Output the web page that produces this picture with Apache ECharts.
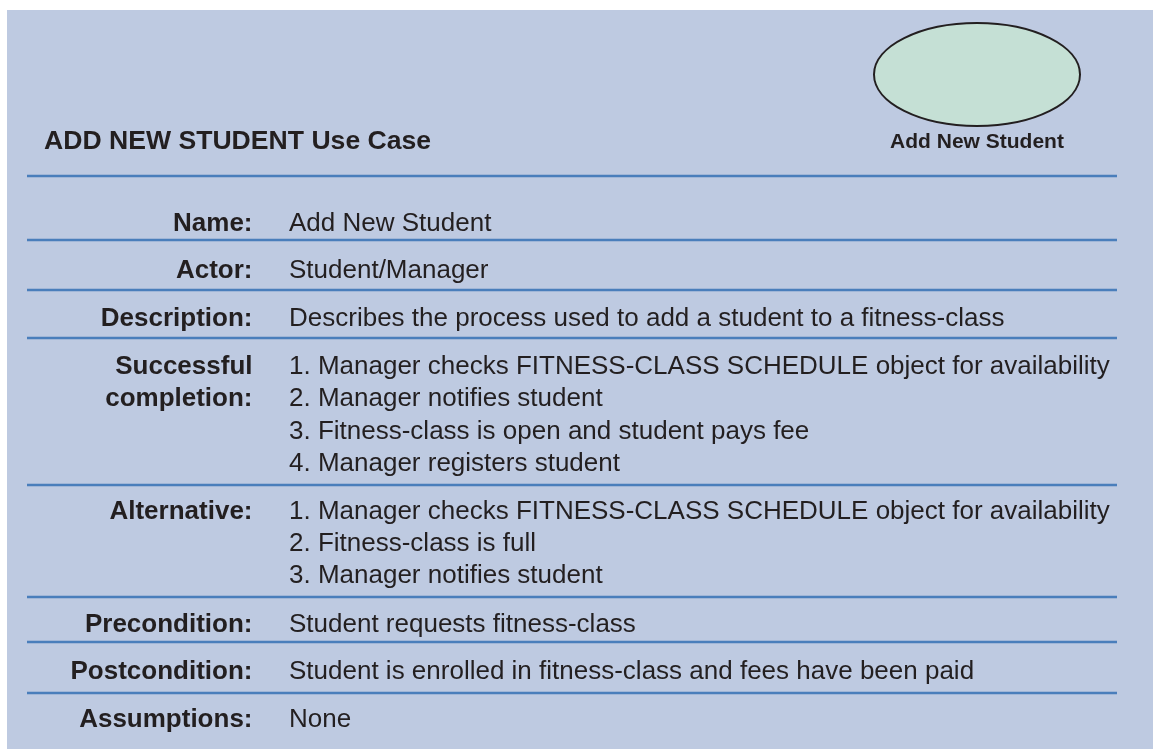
<!DOCTYPE html>
<html>
<head>
<meta charset="utf-8">
<script src="https://cdn.jsdelivr.net/npm/echarts@6/dist/echarts.min.js"></script>
<style>
html,body{margin:0;padding:0;background:#ffffff;}
#chart{width:1153px;height:749px;}
</style>
</head>
<body>
<div id="chart"></div>
<script>
// ---- content ----
const titleText = 'ADD NEW STUDENT Use Case';
const useCaseName = 'Add New Student';
const fieldLabels = [
  ['Name:'],
  ['Actor:'],
  ['Description:'],
  ['Successful', 'completion:'],
  ['Alternative:'],
  ['Precondition:'],
  ['Postcondition:'],
  ['Assumptions:']
];
const fieldValues = [
  ['Add New Student'],
  ['Student/Manager'],
  ['Describes the process used to add a student to a fitness-class'],
  ['1. Manager checks FITNESS-CLASS SCHEDULE object for availability',
   '2. Manager notifies student',
   '3. Fitness-class is open and student pays fee',
   '4. Manager registers student'],
  ['1. Manager checks FITNESS-CLASS SCHEDULE object for availability',
   '2. Fitness-class is full',
   '3. Manager notifies student'],
  ['Student requests fitness-class'],
  ['Student is enrolled in fitness-class and fees have been paid'],
  ['None']
];

// ---- layout ----
const separatorY = [176, 240, 290, 338, 485, 597, 642, 693];
const firstBaseline = [231, 278.3, 325.7, 374.3, 519, 631.7, 679.3, 726.7];
const lineStep = 32.3;
const FONT = '"Liberation Sans", Arial, Helvetica, sans-serif';
const TEXT = '#231F20';
const FS = 26;

function textAt(str, x, baseline, size, weight, align) {
  return {
    type: 'text',
    style: {
      text: str,
      x: x,
      y: baseline - size * 0.28,
      fill: TEXT,
      fontSize: size,
      fontWeight: weight,
      fontFamily: FONT,
      align: align,
      verticalAlign: 'middle'
    },
    silent: true
  };
}

const elements = [];
elements.push({ type: 'rect', shape: { x: 7, y: 10, width: 1146, height: 739 }, style: { fill: '#BECAE1' }, silent: true });
elements.push({ type: 'ellipse', shape: { cx: 977, cy: 74.5, rx: 103, ry: 51.5 }, style: { fill: '#C5E0D5', stroke: '#231F20', lineWidth: 2 }, silent: true });
elements.push(textAt(useCaseName, 977, 148.3, 21, 'bold', 'center'));
elements.push(textAt(titleText, 44, 149, 26.6, 'bold', 'left'));
separatorY.forEach(function (y) {
  elements.push({ type: 'line', shape: { x1: 27, y1: y, x2: 1117, y2: y }, style: { stroke: '#4A7EBB', lineWidth: 2.5 }, silent: true });
});
fieldLabels.forEach(function (lines, i) {
  lines.forEach(function (s, k) {
    elements.push(textAt(s, 252.5, firstBaseline[i] + k * lineStep, FS, 'bold', 'right'));
  });
});
fieldValues.forEach(function (lines, i) {
  lines.forEach(function (s, k) {
    elements.push(textAt(s, 289, firstBaseline[i] + k * lineStep, FS, 'normal', 'left'));
  });
});

const chart = echarts.init(document.getElementById('chart'), null, { renderer: 'canvas', width: 1153, height: 749 });
chart.setOption({
  animation: false,
  backgroundColor: '#ffffff',
  graphic: { elements: elements }
});
</script>
</body>
</html>
